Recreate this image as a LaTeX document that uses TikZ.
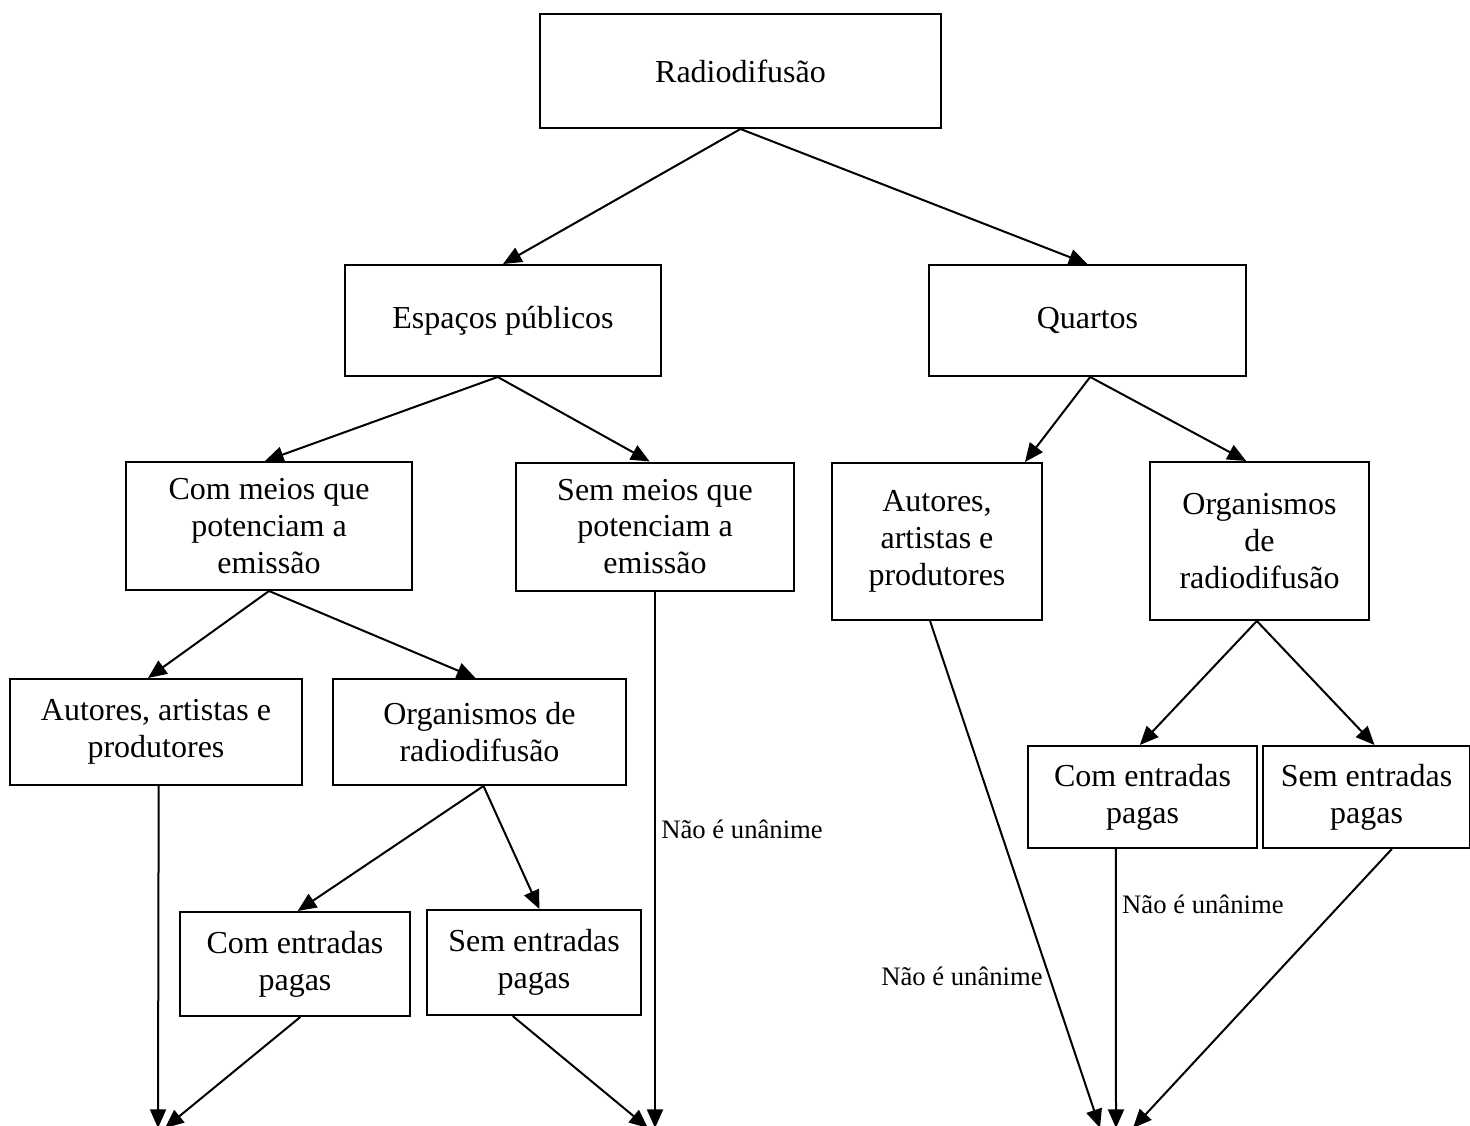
\documentclass[tikz,border=0pt]{standalone}
\usepackage{fontspec}
\setmainfont{Liberation Serif}
\usetikzlibrary{arrows.meta}

\begin{document}
\begin{tikzpicture}[
  x=0.375pt, y=-0.375pt,
  box/.style={rectangle, draw, line width=0.75pt, inner sep=0pt, align=center, font=\fontsize{12}{13.8}\selectfont},
  note/.style={font=\fontsize{10}{12}\selectfont, inner sep=2pt},
  arrow/.style={-{Triangle[length=7pt, width=6pt]}, line width=0.75pt}
]
\useasboundingbox (0,0) rectangle (1470,1126);

\node[box, minimum width=150.4pt, minimum height=42.75pt] (radio) at (740.5,71) {Radiodifusão};

\node[box, minimum width=118.5pt, minimum height=41.6pt] (espacos) at (503,320.5) {Espaços públicos};
\node[box, minimum width=118.9pt, minimum height=41.6pt] (quartos) at (1087.5,320.5) {Quartos};

\node[box, minimum width=107.25pt, minimum height=48pt] (commeios) at (269,526) {Com meios que\\potenciam a\\emissão};
\node[box, minimum width=104.25pt, minimum height=48pt] (semmeios) at (655,526.5) {Sem meios que\\potenciam a\\emissão};
\node[box, minimum width=78.75pt, minimum height=58.9pt] (autoresR) at (937,541.5) {Autores,\\artistas e\\produtores};
\node[box, minimum width=82.1pt, minimum height=59.25pt] (organR) at (1259.5,541) {Organismos\\de\\radiodifusão};

\node[box, minimum width=109.5pt, minimum height=39.75pt] (autoresL) at (156,732) {Autores, artistas e\\produtores};
\node[box, minimum width=109.9pt, minimum height=39.75pt] (organL) at (479.5,732) {Organismos de\\radiodifusão};

\node[box, minimum width=86.25pt, minimum height=39pt] (comentL) at (295,964) {Com entradas\\pagas};
\node[box, minimum width=80.25pt, minimum height=39.4pt] (sementL) at (534,962.5) {Sem entradas\\pagas};
\node[box, minimum width=85.9pt, minimum height=38.25pt] (comentR) at (1142.5,797) {Com entradas\\pagas};
\node[box, minimum width=77.6pt, minimum height=38.25pt] (sementR) at (1366.5,797) {Sem entradas\\pagas};

% Loose ends at the bottom
\coordinate (endA) at (158,1128);
\coordinate (endB) at (165,1128);
\coordinate (endC) at (648,1128);
\coordinate (endD) at (655,1128);
\coordinate (endE) at (1100,1128);
\coordinate (endF) at (1116,1128);
\coordinate (endG) at (1133,1128);

% Tree arrows
\draw[arrow] (radio.south) -- (espacos.north);
\draw[arrow] (radio.south) -- (quartos.north);
\draw[arrow] ([xshift=-2pt]espacos.south) -- ([xshift=-1.5pt]commeios.north);
\draw[arrow] ([xshift=-2pt]espacos.south) -- ([xshift=-2pt]semmeios.north);
\draw[arrow] ([xshift=1pt]quartos.south) -- ([xshift=33pt]autoresR.north);
\draw[arrow] ([xshift=1pt]quartos.south) -- ([xshift=-5pt]organR.north);
\draw[arrow] (commeios.south) -- ([xshift=-3pt]autoresL.north);
\draw[arrow] (commeios.south) -- ([xshift=-1.5pt]organL.north);
\draw[arrow] ([xshift=1.5pt]organL.south) -- ([xshift=1pt]comentL.north);
\draw[arrow] ([xshift=1.5pt]organL.south) -- ([xshift=2pt]sementL.north);
\draw[arrow] ([xshift=-1pt]organR.south) -- ([xshift=-1pt]comentR.north);
\draw[arrow] ([xshift=-1pt]organR.south) -- ([xshift=3pt]sementR.north);

% Arrows to the bottom
\draw[arrow] ([xshift=1pt]autoresL.south) -- (endA);
\draw[arrow] ([xshift=2pt]comentL.south) -- (endB);
\draw[arrow] ([xshift=-8pt]sementL.south) -- (endC);
\draw[arrow] (semmeios.south) -- node[note, pos=0.444, right] {Não é unânime} (endD);
\draw[arrow] ([xshift=-2.6pt]autoresR.south) -- node[note, pos=0.7, left] {Não é unânime} (endE);
\draw[arrow] ([xshift=-10pt]comentR.south) -- node[note, pos=0.2, right] {Não é unânime} (endF);
\draw[arrow] ([xshift=9.5pt]sementR.south) -- (endG);

\end{tikzpicture}
\end{document}
